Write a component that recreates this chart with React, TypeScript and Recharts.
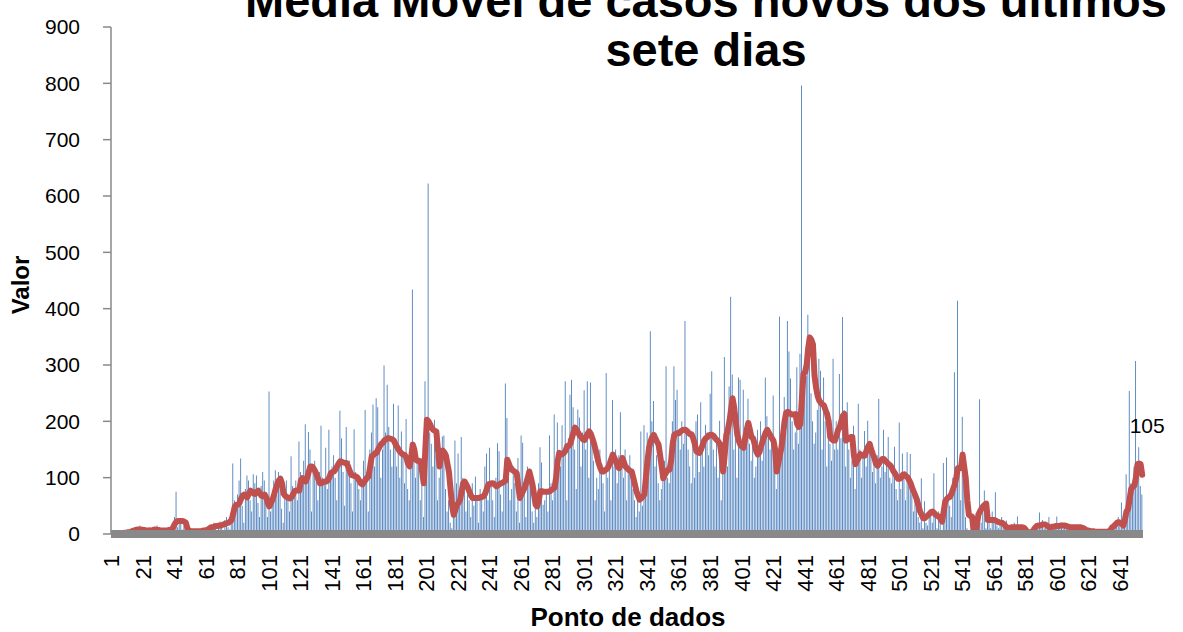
import React from "react";
import { ComposedChart, Bar, Line, XAxis, YAxis } from "recharts";

const dailyCases: number[] = [
  0,0,1,0,2,0,3,1,0,5,2,0,8,3,10,12,4,0,15,6,
  5,9,3,0,12,4,7,2,10,15,3,0,9,5,8,2,6,0,10,14,
  30,75,12,20,28,8,15,2,5,0,10,3,6,0,8,4,2,0,7,9,
  5,12,8,0,15,20,10,3,18,22,14,6,25,30,12,8,40,125,60,45,
  70,95,134,50,20,80,104,95,60,40,106,90,104,55,30,85,110,95,70,30,
  253,40,60,95,113,70,110,90,45,20,80,95,60,40,138,85,70,95,60,164,
  110,90,130,195,100,181,150,40,120,130,100,60,110,192,100,90,153,80,185,110,
  120,140,100,60,130,219,170,110,50,190,120,130,90,40,186,110,100,80,60,95,
  130,220,110,40,150,180,230,120,241,225,160,100,150,299,180,265,190,150,120,231,
  170,120,228,100,182,140,90,204,80,60,150,434,130,100,140,120,60,90,30,271,
  150,622,180,160,120,203,140,60,100,130,173,175,80,40,60,20,10,30,166,90,
  143,60,172,100,80,40,70,60,30,90,50,102,60,20,80,70,40,120,143,60,
  153,90,60,30,100,161,147,70,40,90,267,206,100,60,80,120,90,40,135,20,
  175,162,70,30,120,100,80,40,20,60,30,90,154,127,52,60,80,40,175,90,
  60,212,100,198,140,120,193,150,271,60,170,247,274,225,150,80,221,207,120,180,
  255,150,271,100,269,180,130,60,100,80,150,120,90,40,286,100,130,60,238,120,
  150,90,140,216,130,100,150,60,120,140,100,80,60,30,70,40,182,50,193,100,
  180,150,360,200,236,120,140,90,60,80,120,130,298,100,90,150,200,298,238,256,
  180,150,200,160,378,190,150,120,90,160,100,200,212,110,234,150,120,194,180,140,
  249,289,150,120,170,100,201,60,140,314,170,120,262,421,283,150,200,100,278,274,
  150,256,180,200,240,160,130,170,100,120,185,150,200,130,170,278,209,190,150,160,
  246,130,80,120,386,150,200,243,180,378,324,276,200,150,180,296,160,320,796,250,
  300,280,389,308,250,200,160,180,220,311,290,150,278,200,120,180,160,130,311,150,
  200,150,284,170,385,220,120,234,150,100,130,192,80,120,231,150,100,140,183,120,
  201,160,150,110,130,90,140,240,100,120,185,110,130,172,100,90,120,155,80,60,
  198,80,143,110,60,145,90,142,70,40,60,50,30,20,99,10,58,20,15,30,
  40,20,108,30,10,40,20,5,126,60,136,70,50,30,100,287,80,414,120,60,
  208,90,30,10,0,5,20,0,10,15,30,239,20,40,77,10,30,20,10,40,
  20,74,15,10,25,30,20,5,24,10,15,8,12,20,10,31,5,10,15,8,
  5,0,3,2,5,8,15,10,20,38,12,25,10,18,15,30,8,12,10,15,
  31,12,15,20,10,18,14,10,8,15,12,10,14,8,12,10,15,5,8,4,
  5,6,3,8,4,2,5,3,6,4,2,5,3,8,10,15,20,12,25,30,
  20,56,15,30,106,60,254,90,80,120,307,100,154,85,70,
];

const movingAverage: (number | null)[] = [
  null,null,null,null,null,null,1,1,2,2,3,3,4,5,6,7,8,8,8,8,
  7,7,6,6,6,6,7,8,8,7,7,6,6,6,6,6,7,7,8,12,
  18,22,23,23,23,23,22,20,10,6,5,5,5,5,5,5,5,5,6,6,
  7,8,10,12,12,13,14,14,15,15,16,17,18,19,20,22,25,35,48,52,
  52,55,62,68,70,68,65,72,77,75,72,71,75,77,72,68,67,70,65,55,
  49,55,61,70,80,88,95,98,90,72,68,66,64,63,65,70,76,77,77,77,
  95,99,95,93,100,110,120,120,117,112,105,98,90,90,92,93,93,95,100,108,
  110,111,115,120,125,129,128,127,126,126,120,112,105,104,103,102,100,95,90,88,
  92,96,100,102,120,138,140,143,144,150,155,160,162,166,168,170,170,169,168,166,
  160,155,150,146,143,141,140,135,125,120,135,159,150,132,130,130,129,110,90,150,
  203,200,195,188,185,183,182,150,120,140,148,145,140,125,110,80,50,34,42,52,
  55,60,75,90,93,88,82,75,68,64,64,64,64,64,65,66,67,72,80,88,
  89,90,90,88,85,86,88,90,91,93,95,132,125,118,114,112,110,108,85,64,
  70,76,82,90,100,111,100,88,70,52,49,60,76,76,75,75,75,75,76,78,
  80,82,100,130,144,141,142,144,148,156,156,160,170,180,189,185,180,175,172,168,
  167,172,178,182,178,170,161,150,138,126,118,111,111,113,115,118,125,133,141,135,
  128,120,117,125,135,128,120,117,114,112,111,100,88,76,68,61,63,66,70,100,
  130,153,165,172,176,170,164,159,140,120,99,105,110,114,114,130,160,176,178,179,
  179,182,184,185,185,183,180,177,177,170,160,147,145,144,150,158,166,170,172,175,
  176,176,174,170,167,164,160,140,111,140,175,185,200,220,241,225,200,176,165,158,
  155,153,170,185,197,185,172,170,160,147,141,145,155,164,172,180,185,180,175,170,
  165,150,111,125,140,153,175,200,215,217,215,213,212,212,213,195,190,195,240,284,
  287,300,330,349,345,337,281,260,245,237,233,230,228,220,213,200,172,168,166,166,
  175,185,189,200,210,213,166,168,170,172,172,140,124,130,135,142,140,139,139,148,
  155,160,150,142,135,125,121,125,130,133,133,130,127,124,122,118,112,108,103,98,
  98,100,105,106,103,101,96,90,82,75,68,61,50,40,34,28,28,31,33,36,
  39,40,37,34,32,31,27,22,40,58,62,65,66,72,80,88,100,117,117,117,
  141,120,99,60,34,32,31,5,2,15,34,40,45,49,52,54,25,25,25,25,
  25,24,22,21,20,20,18,15,11,11,11,12,12,12,12,12,12,12,12,11,
  8,4,2,3,4,7,11,14,15,15,16,17,17,16,14,12,12,13,13,14,
  14,14,15,15,15,15,14,13,12,12,12,12,12,12,12,12,11,10,8,6,
  6,5,5,5,4,4,4,4,4,4,4,4,4,5,8,12,14,17,20,21,
  20,18,15,25,40,44,62,80,84,86,100,124,125,124,105,
];

const categories: number[] = dailyCases.map((_, i) => i + 1);
const yTicks: number[] = [0, 100, 200, 300, 400, 500, 600, 700, 800, 900];

const titleLines = ["Média Móvel de casos novos dos últimos", "sete dias"];
const yAxisTitle = "Valor";
const xAxisTitle = "Ponto de dados";

const data = categories.map((c, i) => ({
  x: c,
  casos: dailyCases[i],
  media: movingAverage[i],
}));

const FONT = "'Liberation Sans', Arial, sans-serif";
const lastIndex = data.length - 1;

const XTick = (props: any) => {
  const { x, payload } = props;
  return (
    <text
      transform={`translate(${x},555) rotate(-90)`}
      textAnchor="end"
      dominantBaseline="central"
      fontSize={22}
      fontFamily={FONT}
      fill="#000"
    >
      {payload.value}
    </text>
  );
};

const LastLabel = (props: any) => {
  const { x, y, index, value } = props;
  if (index !== lastIndex) return null;
  return (
    <text
      x={x + 5}
      y={y - 49}
      textAnchor="middle"
      dominantBaseline="central"
      fontSize={21}
      fontFamily={FONT}
      fill="#000"
    >
      {value}
    </text>
  );
};

export default function App() {
  return (
    <div
      style={{
        position: "absolute",
        left: 0,
        top: 0,
        width: 1183,
        height: 632,
        background: "#fff",
        overflow: "hidden",
        fontFamily: FONT,
      }}
    >
      <ComposedChart
        width={1183}
        height={632}
        data={data}
        margin={{ top: 27, right: 40, left: 0, bottom: 0 }}
        barCategoryGap={0}
      >
        <XAxis
          dataKey="x"
          interval={19}
          height={98}
          tickLine={false}
          axisLine={{ stroke: "#898989", strokeWidth: 8 }}
          tick={<XTick />}
        />
        <YAxis
          domain={[0, 900]}
          ticks={yTicks}
          width={111}
          tickSize={8}
          tickMargin={23}
          tickLine={{ stroke: "#898989", strokeWidth: 1.5 }}
          axisLine={{ stroke: "#898989", strokeWidth: 1.5 }}
          tick={{ fontSize: 21, fill: "#000", fontFamily: FONT }}
        />
        <Bar
          dataKey="casos"
          fill="#4F81BD"
          barSize={0.9}
          isAnimationActive={false}
        />
        <Line
          dataKey="media"
          type="linear"
          stroke="#C0504D"
          strokeWidth={6}
          strokeLinejoin="round"
          strokeLinecap="round"
          dot={false}
          activeDot={false}
          isAnimationActive={false}
          label={<LastLabel />}
        />
      </ComposedChart>
      <svg
        width={1183}
        height={632}
        style={{ position: "absolute", left: 0, top: 0, pointerEvents: "none" }}
      >
        <text x={706} y={17} textAnchor="middle" fontSize={47} fontWeight="bold" fontFamily={FONT} fill="#000">
          {titleLines[0]}
        </text>
        <text x={706} y={66} textAnchor="middle" fontSize={47} fontWeight="bold" fontFamily={FONT} fill="#000">
          {titleLines[1]}
        </text>
        <text
          transform="translate(20,285) rotate(-90)"
          textAnchor="middle"
          dominantBaseline="central"
          fontSize={24}
          fontWeight="bold"
          fontFamily={FONT}
          fill="#000"
        >
          {yAxisTitle}
        </text>
        <text
          x={628}
          y={617}
          textAnchor="middle"
          dominantBaseline="central"
          fontSize={26}
          fontWeight="bold"
          fontFamily={FONT}
          fill="#000"
        >
          {xAxisTitle}
        </text>
      </svg>
    </div>
  );
}
